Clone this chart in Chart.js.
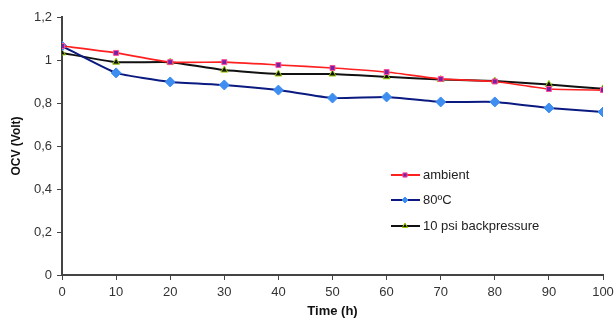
<!DOCTYPE html>
<html>
<head>
<meta charset="utf-8">
<script src="https://cdn.jsdelivr.net/npm/chart.js@4"></script>
<style>
  html, body { margin:0; padding:0; background:#fff; }
  #wrap { width:614px; height:322px; position:relative; }
</style>
</head>
<body>
<div id="wrap"><canvas id="ocvChart" width="614" height="322"></canvas></div>
<script>
/* ---------- data ---------- */
const hours        = [0, 10, 20, 30, 40, 50, 60, 70, 80, 90, 100];
const ambient      = [1.065, 1.033, 0.99, 0.99, 0.977, 0.963, 0.944, 0.912, 0.900, 0.865, 0.860];
const hot80        = [1.065, 0.940, 0.898, 0.884, 0.860, 0.823, 0.828, 0.805, 0.805, 0.777, 0.758];
const backpressure = [1.033, 0.990, 0.990, 0.953, 0.935, 0.935, 0.922, 0.909, 0.902, 0.886, 0.866];
const seriesNames  = ["ambient", "80ºC", "10 psi backpressure"];
const yTicks       = ["0", "0,2", "0,4", "0,6", "0,8", "1", "1,2"];

const toPoints = arr => arr.map((v, i) => ({x: hours[i], y: v}));

/* ---------- legend drawn inside the plot ---------- */
const innerLegend = {
  id: "innerLegend",
  afterDraw(chart){
    const ctx = chart.ctx;
    const rows = [175, 200, 226];
    chart.data.datasets.forEach((ds, i) => {
      const y = rows[i];
      ctx.save();
      // line sample
      ctx.strokeStyle = ds.borderColor;
      ctx.lineWidth = 2;
      ctx.beginPath();
      ctx.moveTo(391, y); ctx.lineTo(420, y);
      ctx.stroke();
      // marker
      ctx.fillStyle = ds.pointBackgroundColor;
      ctx.strokeStyle = ds.pointBorderColor;
      ctx.lineWidth = 1;
      Chart.helpers.drawPoint(ctx, {
        pointStyle: ds.pointStyle, radius: 3, rotation: 0, borderWidth: 1
      }, 405, y);
      // text
      ctx.fillStyle = "#222";
      ctx.font = "13px 'Liberation Sans', Arial, sans-serif";
      ctx.textBaseline = "middle";
      ctx.fillText(ds.label, 423, y);
      ctx.restore();
    });
  }
};

/* ---------- chart ---------- */
const ctx = document.getElementById("ocvChart");

new Chart(ctx, {
  type: "line",
  data: {
    datasets: [
      {
        label: seriesNames[0],
        data: toPoints(ambient),
        borderColor: "#ff2020",
        borderWidth: 1.6,
        pointStyle: "rect",
        pointRadius: 3.5,
        pointBackgroundColor: "#7a1fa2",
        pointBorderColor: "#ff4d9a",
        pointBorderWidth: 1,
        tension: 0.15
      },
      {
        label: seriesNames[1],
        data: toPoints(hot80),
        borderColor: "#0a1a80",
        borderWidth: 2,
        pointStyle: "rectRot",
        pointRadius: 5,
        pointBackgroundColor: "#3d8ef0",
        pointBorderColor: "#3d8ef0",
        pointBorderWidth: 1,
        tension: 0.15
      },
      {
        label: seriesNames[2],
        data: toPoints(backpressure),
        borderColor: "#111",
        borderWidth: 2,
        pointStyle: "triangle",
        pointRadius: 4,
        pointBackgroundColor: "#111",
        pointBorderColor: "#9acd00",
        pointBorderWidth: 1,
        tension: 0.15
      }
    ]
  },
  options: {
    responsive: false,
    animation: false,
    layout: { padding: { top: 17, right: 11, left: 9, bottom: 3 } },
    plugins: {
      legend: { display: false },
      tooltip: { enabled: false }
    },
    scales: {
      x: {
        type: "linear",
        min: 0, max: 100,
        ticks: {
          stepSize: 10,
          color: "#333",
          font: { family: "'Liberation Sans', Arial", size: 13 },
          padding: 5,
          maxRotation: 0
        },
        grid: {
          display: true, drawOnChartArea: false, drawTicks: true,
          tickLength: 5, color: "#444", lineWidth: 1
        },
        border: { color: "#444", width: 2 },
        title: {
          display: true, text: "Time (h)", color: "#111",
          font: { family: "'Liberation Sans', Arial", size: 13, weight: "bold" },
          padding: { top: 2, bottom: 0 }
        },
        afterFit: s => { s.height = 44; s.paddingRight = 0; s.paddingLeft = 0; }
      },
      y: {
        min: 0, max: 1.2,
        ticks: {
          stepSize: 0.2,
          color: "#333",
          font: { family: "'Liberation Sans', Arial", size: 13 },
          padding: 5,
          callback: (v, i) => yTicks[i]
        },
        grid: {
          display: true, drawOnChartArea: false, drawTicks: true,
          tickLength: 5, color: "#444", lineWidth: 1
        },
        border: { color: "#444", width: 2 },
        title: {
          display: true, text: "OCV (Volt)", color: "#111",
          font: { family: "'Liberation Sans', Arial", size: 12, weight: "bold" },
          padding: { top: 0, bottom: 4 }
        },
        afterFit: s => { s.width = 53; }
      }
    }
  },
  plugins: [innerLegend]
});
</script>
</body>
</html>
